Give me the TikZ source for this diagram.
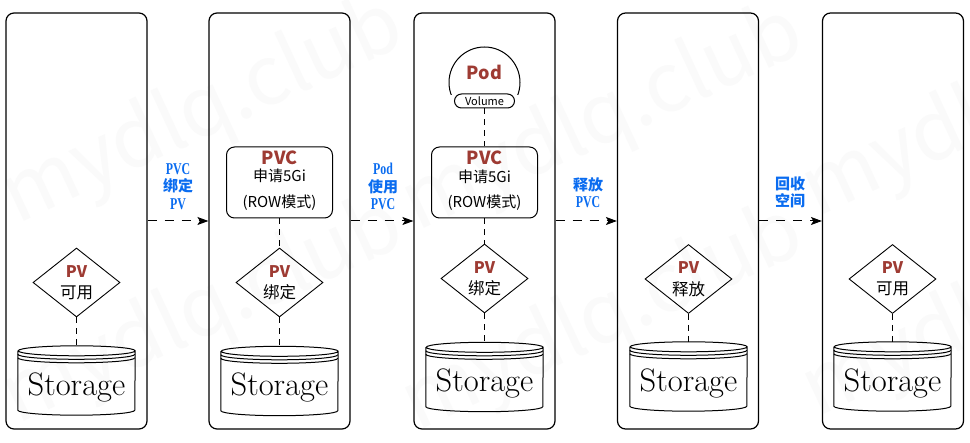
\documentclass[tikz,border=0pt]{standalone}
\usepackage{fontspec}
\usetikzlibrary{shapes.geometric,arrows.meta,calc}
\newfontfamily\cjk{Noto Sans CJK SC}
\newfontfamily\lblser[BoldFont={Liberation Serif Bold},BoldFeatures={FakeStretch=0.72},FakeStretch=0.72]{Liberation Serif}
\definecolor{pvred}{HTML}{9E3B33}
\definecolor{lblblue}{HTML}{0A6CF0}
\definecolor{wmgray}{HTML}{FAFAFA}
\newcommand\drawstore[1]{%
  \draw[storeline] ([yshift=-5pt]#1.north west) -- ([yshift=5pt]#1.south west)
    arc[start angle=180,end angle=360,x radius=58.5pt,y radius=5pt]
    -- ([yshift=-5pt]#1.north east)
    arc[start angle=0,end angle=360,x radius=58.5pt,y radius=5pt];
  \draw[storeline] ([yshift=-8.5pt]#1.north west) arc[start angle=180,end angle=360,x radius=58.5pt,y radius=5pt];
  \draw[storeline] ([yshift=-12pt]#1.north west) arc[start angle=180,end angle=360,x radius=58.5pt,y radius=5pt];
}
\begin{document}
\begin{tikzpicture}[x=1pt,y=-1pt,
  panel/.style={draw, line width=1.2pt, rounded corners=8pt, minimum width=141pt, minimum height=416pt, inner sep=0pt},
  pvd/.style={diamond, draw, line width=0.9pt, minimum width=87pt, minimum height=69pt, inner sep=0pt},
  pvbox/.style={draw, line width=1pt, rounded corners=8pt, minimum width=106pt, minimum height=71pt, inner sep=0pt},
  store/.style={minimum width=117pt, minimum height=69pt, inner sep=0pt, font=\rmfamily\fontsize{32.5}{32.5}\selectfont, text height=30pt, text depth=0pt},
  storeline/.style={line width=1pt},
  conn/.style={dash pattern=on 6pt off 5pt, line width=1pt},
  arr/.style={dash pattern=on 9pt off 8pt, line width=1pt, -{Stealth[length=11pt,width=8pt,inset=2.5pt]}},
  redt/.style={text=pvred, font=\cjk\bfseries\fontsize{16}{16}\selectfont, inner sep=0pt},
  redbig/.style={text=pvred, font=\cjk\bfseries\fontsize{18}{18}\selectfont, inner sep=0pt},
  blk/.style={font=\cjk\fontsize{15}{15}\selectfont, inner sep=0pt},
  blkd/.style={font=\cjk\fontsize{16.5}{16.5}\selectfont, inner sep=0pt},
  lbl/.style={text=lblblue, align=center, inner sep=0pt, font=\bfseries\fontsize{15}{17.5}\selectfont},
  podc/.style={circle, draw, line width=1pt, minimum size=71pt, inner sep=0pt},
  pill/.style={draw, line width=1pt, rounded corners=7pt, minimum width=60pt, minimum height=14pt, inner sep=0pt, font=\cjk\fontsize{11}{11}\selectfont},
  wm/.style={rotate=25, font=\cjk\fontsize{82}{82}\selectfont, text=wmgray, inner sep=0pt}
]
\useasboundingbox (0,0) rectangle (970,443);
\fill[white] (0,0) rectangle (970,443);

% watermark (under everything)
\node[wm] (wm1) at (203,113) {mydlq.club};
\node[wm] (wm2) at (603,120) {mydlq.club};
\node[wm] (wm3) at (1003,106) {mydlq.club};
\node[wm] (wm4) at (203,313) {mydlq.club};
\node[wm] (wm5) at (603,320) {mydlq.club};
\node[wm] (wm6) at (1003,306) {mydlq.club};

% panels
\node[panel] (p1) at (76.5,221) {};
\node[panel] (p2) at (279.5,221) {};
\node[panel] (p3) at (484.5,221) {};
\node[panel] (p4) at (688,221) {};
\node[panel] (p5) at (893,221) {};

% arrows between panels
\draw[arr] (p1.east) -- (p2.west);
\draw[arr] (p2.east) -- (p3.west);
\draw[arr] (p3.east) -- (p4.west);
\draw[arr] (p4.east) -- (p5.west);
\node[lbl] (l1) at (178,186.5) {{\lblser\bfseries\fontsize{16.5}{17.5}\selectfont PVC}\\{\cjk\bfseries 绑定}\\{\lblser\bfseries\fontsize{16.5}{17.5}\selectfont PV}};
\node[lbl] (l2) at (383,186.5) {{\lblser\bfseries\fontsize{16.5}{17.5}\selectfont Pod}\\{\cjk\bfseries 使用}\\{\lblser\bfseries\fontsize{16.5}{17.5}\selectfont PVC}};
\node[lbl] (l3) at (588,192.5) {{\cjk\bfseries 释放}\\{\lblser\bfseries\fontsize{16.5}{17.5}\selectfont PVC}};
\node[lbl] (l4) at (790,192.5) {{\cjk\bfseries 回收}\\{\cjk\bfseries 空间}};

% storage cylinders
\node[store] (s1) at (76.5,380.5) {Storage};
\node[store] (s2) at (279.5,381) {Storage};
\node[store] (s3) at (484.5,377) {Storage};
\node[store] (s4) at (688.5,376.5) {Storage};
\node[store] (s5) at (892.5,376.5) {Storage};
\drawstore{s1}\drawstore{s2}\drawstore{s3}\drawstore{s4}\drawstore{s5}

% PV diamonds
\node[pvd] (d1) at (76.5,282.5) {};
\node[redt] (d1a) at ([yshift=11pt]d1.center) {PV};
\node[blkd] (d1b) at ([yshift=-10pt]d1.center) {可用};
\node[pvd] (d2) at (279.5,282.5) {};
\node[redt] (d2a) at ([yshift=11pt]d2.center) {PV};
\node[blkd] (d2b) at ([yshift=-10pt]d2.center) {绑定};
\node[pvd] (d3) at (484.5,278.5) {};
\node[redt] (d3a) at ([yshift=11pt]d3.center) {PV};
\node[blkd] (d3b) at ([yshift=-10pt]d3.center) {绑定};
\node[pvd] (d4) at (688.5,279) {};
\node[redt] (d4a) at ([yshift=11pt]d4.center) {PV};
\node[blkd] (d4b) at ([yshift=-10pt]d4.center) {释放};
\node[pvd] (d5) at (892.5,279) {};
\node[redt] (d5a) at ([yshift=11pt]d5.center) {PV};
\node[blkd] (d5b) at ([yshift=-10pt]d5.center) {可用};

% PVC boxes
\node[pvbox] (b2) at (279.5,182.5) {};
\node[redbig] (b2a) at ([yshift=25pt]b2.center) {PVC};
\node[blk] (b2b) at ([yshift=6.5pt]b2.center) {申请5Gi};
\node[blk] (b2c) at ([yshift=-20.5pt]b2.center) {(ROW模式)};
\node[pvbox] (b3) at (484.5,182.5) {};
\node[redbig] (b3a) at ([yshift=24.5pt]b3.center) {PVC};
\node[blk] (b3b) at ([yshift=5.5pt]b3.center) {申请5Gi};
\node[blk] (b3c) at ([yshift=-20.5pt]b3.center) {(ROW模式)};

% Pod with volume
\begin{scope}
  \clip (400,0) rectangle (570,95);
  \node[podc] (pod) at (484.5,82.5) {};
\end{scope}
\node[redbig] (podt) at (484.5,72) {Pod};
\node[pill] (vol) at (484.5,101) {Volume};

% dashed connectors
\draw[conn] (d1.south) -- (s1.north);
\draw[conn] (b2.south) -- (d2.north);
\draw[conn] (d2.south) -- (s2.north);
\draw[conn] (vol.south) -- (b3.north);
\draw[conn] (b3.south) -- (d3.north);
\draw[conn] (d3.south) -- (s3.north);
\draw[conn] (d4.south) -- (s4.north);
\draw[conn] (d5.south) -- (s5.north);
\end{tikzpicture}
\end{document}
